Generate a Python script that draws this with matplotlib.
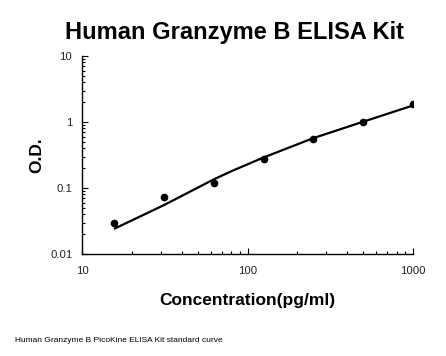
import matplotlib
matplotlib.use('Agg')
import matplotlib.pyplot as plt
from matplotlib.ticker import LogLocator, FixedLocator, NullFormatter

plt.rcParams['font.family'] = ['Liberation Sans', 'DejaVu Sans']

# standard points
conc = [15.6, 31.25, 62.5, 125, 250, 500, 1000]
od = [0.030, 0.074, 0.120, 0.275, 0.56, 0.99, 1.85]

# fitted curve
fit_conc = [15.6, 31.25, 62.5, 80, 125, 250, 500, 1000]
fit_od = [0.024, 0.055, 0.135, 0.18, 0.29, 0.57, 1.01, 1.78]

fig = plt.figure(figsize=(4.46, 3.56), dpi=100)
ax = fig.add_axes([82 / 446, 1 - 254 / 356, (413 - 82) / 446, (254 - 56) / 356])

ax.plot(fit_conc, fit_od, color='black', lw=1.6, solid_capstyle='butt')
ax.plot(conc, od, 'o', color='black', ms=4.5)

ax.set_xscale('log')
ax.set_yscale('log')
ax.set_xlim(10, 1000)
ax.set_ylim(0.01, 10)

ax.xaxis.set_major_locator(FixedLocator([10, 100, 1000]))
ax.yaxis.set_major_locator(FixedLocator([0.01, 0.1, 1, 10]))
ax.set_xticklabels(['10', '100', '1000'])
ax.set_yticklabels(['0.01', '0.1', '1', '10'])
ax.xaxis.set_minor_locator(LogLocator(base=10, subs=range(2, 10)))
ax.yaxis.set_minor_locator(LogLocator(base=10, subs=range(2, 10)))
ax.xaxis.set_minor_formatter(NullFormatter())
ax.yaxis.set_minor_formatter(NullFormatter())

ax.tick_params(which='major', direction='in', length=4, width=0.8, labelsize=8.2,
               colors='black', labelcolor='#222222')
ax.tick_params(which='minor', direction='in', length=2.5, width=0.8)
ax.tick_params(axis='y', which='major', pad=7)
ax.tick_params(axis='x', which='major', pad=9)

for side in ['top', 'right']:
    ax.spines[side].set_visible(False)
for side in ['left', 'bottom']:
    ax.spines[side].set_linewidth(1.0)

fig.text(235 / 446, 1 - 33 / 356, 'Human Granzyme B ELISA Kit', ha='center', va='center',
         fontsize=17, fontweight='bold')
fig.text(247 / 446, 1 - 301 / 356, 'Concentration(pg/ml)', ha='center', va='center',
         fontsize=12.5, fontweight='bold')
fig.text(37 / 446, 1 - 155 / 356, 'O.D.', ha='center', va='center', rotation=90,
         fontsize=12.5, fontweight='bold')
fig.text(15 / 446, 1 - 341 / 356, 'Human Granzyme B PicoKine ELISA Kit standard curve',
         ha='left', va='center', fontsize=6)

fig.savefig('out.png', dpi=100)
